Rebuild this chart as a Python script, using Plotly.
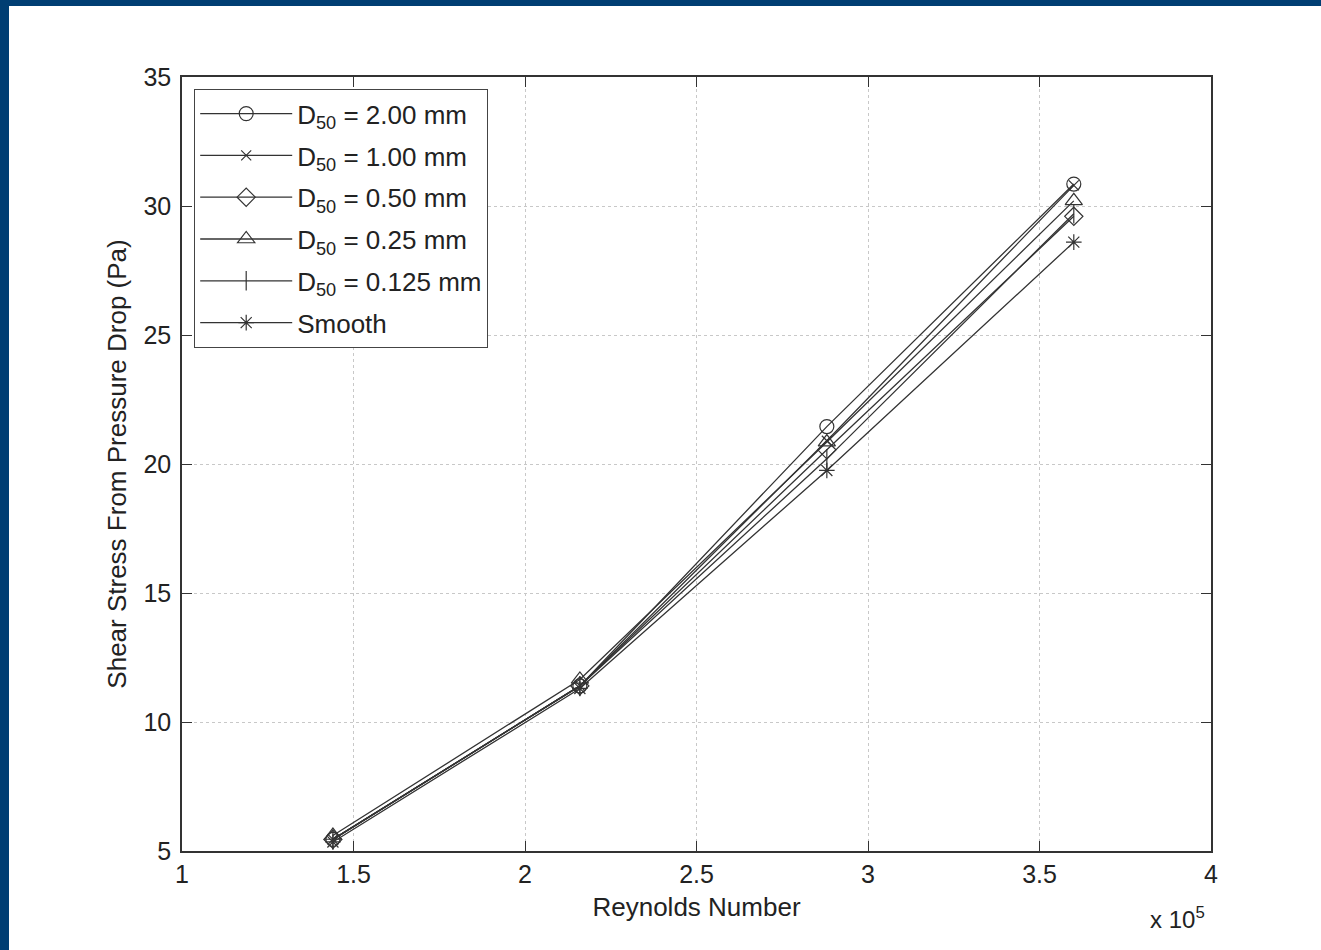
import plotly.graph_objects as go

# ---- data ----
reynolds = [144000, 216000, 288000, 360000]
series_names = [
    "D<sub>50</sub> = 2.00 mm",
    "D<sub>50</sub> = 1.00 mm",
    "D<sub>50</sub> = 0.50 mm",
    "D<sub>50</sub> = 0.25 mm",
    "D<sub>50</sub> = 0.125 mm",
    "Smooth",
]
d200 = [5.45, 11.40, 21.45, 30.85]
d100 = [5.45, 11.40, 20.90, 30.80]
d050 = [5.45, 11.40, 20.55, 29.60]
d025 = [5.60, 11.65, 20.85, 30.20]
d0125 = [5.45, 11.40, 20.20, 29.70]
smooth = [5.35, 11.30, 19.75, 28.60]

x_tickvals = [100000, 150000, 200000, 250000, 300000, 350000, 400000]
x_ticktext = ["1", "1.5", "2", "2.5", "3", "3.5", "4"]
y_tickvals = [5, 10, 15, 20, 25, 30, 35]

symbols = ["circle-open", "x-thin-open", "diamond-open", "triangle-up-open",
           "line-ns-open", "asterisk-open"]
sizes = [14, 10, 14, 15, 14, 13]
all_y = [d200, d100, d050, d025, d0125, smooth]

W, H = 1321, 950
ML, MR, MT, MB = 182, 110, 77, 99
PW, PH = W - ML - MR, H - MT - MB
FONT = "Liberation Sans, Arial, Helvetica, sans-serif"
INK = "#333333"

fig = go.Figure()
for name, ys, sym, sz in zip(series_names, all_y, symbols, sizes):
    fig.add_trace(go.Scatter(
        x=reynolds, y=ys, name=name, mode="lines+markers", legendgroup=name,
        line=dict(color=INK, width=1.3),
        marker=dict(symbol=sym, size=sz, color=INK, line=dict(color=INK, width=1.2)),
    ))

axis_common = dict(
    showline=True, linecolor=INK, linewidth=1.5, mirror="ticks",
    ticks="inside", ticklen=10, tickcolor=INK, tickwidth=1.2,
    showgrid=True, gridcolor="#c8c8c8", griddash="dot", gridwidth=1,
    zeroline=False, tickfont=dict(size=25, color="#222", family=FONT),
)

fig.update_xaxes(range=[100000, 400000], tickvals=x_tickvals, ticktext=x_ticktext,
                 title=dict(text="Reynolds Number", font=dict(size=26, color="#222", family=FONT), standoff=11),
                 **axis_common)
fig.update_yaxes(range=[5, 35], tickvals=y_tickvals,
                 title=dict(text="Shear Stress From Pressure Drop (Pa)", font=dict(size=26, color="#222", family=FONT), standoff=9),
                 ticklabelstandoff=4,
                 **axis_common)

# blue frame strips of the page
fig.add_shape(type="rect", xref="paper", yref="paper",
              x0=-ML / PW, x1=(9 - ML) / PW, y0=-MB / PH, y1=1 + MT / PH,
              fillcolor="#003e73", line_width=0, layer="above")
fig.add_shape(type="rect", xref="paper", yref="paper",
              x0=-ML / PW, x1=1 + MR / PW, y0=1 + (MT - 6) / PH, y1=1 + MT / PH,
              fillcolor="#003e73", line_width=0, layer="above")

fig.add_annotation(text="x 10<sup>5</sup>", xref="paper", yref="paper",
                   x=(1177 - ML) / PW, y=-(918 - (H - MB)) / PH, showarrow=False,
                   xanchor="center", yanchor="middle",
                   font=dict(size=24, color="#222", family=FONT))

fig.update_layout(
    width=W, height=H,
    margin=dict(l=ML, r=MR, t=MT, b=MB),
    paper_bgcolor="white", plot_bgcolor="white",
    font=dict(family=FONT, size=25, color="#222"),
    showlegend=True,
    legend=dict(x=(194 - ML) / PW, y=1 - (89 - MT) / PH, xanchor="left", yanchor="top",
                bgcolor="white", bordercolor="#444", borderwidth=1.2,
                font=dict(size=26, color="#222", family=FONT), itemwidth=92,
                tracegroupgap=5),
)

fig.write_html("out.html")
